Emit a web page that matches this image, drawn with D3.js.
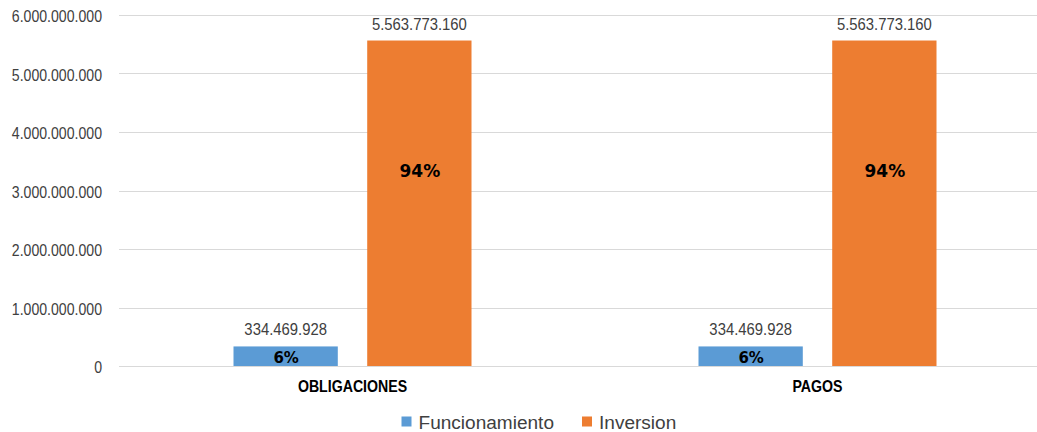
<!DOCTYPE html>
<html>
<head>
<meta charset="utf-8">
<script src="https://cdn.jsdelivr.net/npm/d3@7"></script>
<style>
  body { margin: 0; background: #fff; }
  svg { display: block; font-family: "Liberation Sans", Arial, sans-serif; }
</style>
</head>
<body>
<svg id="chart" width="1037" height="432"></svg>
<script>
// data
const categories = ["OBLIGACIONES", "PAGOS"];
const seriesNames = ["Funcionamiento", "Inversion"];
const funcionamiento = [334469928, 334469928];
const inversion = [5563773160, 5563773160];
const pctLabels = [["6%", "94%"], ["6%", "94%"]];
// where the percentage label sits, as a share of the bar height
const pctAnchor = [0.42, 0.6];
const pctSize = [15, 17];
const yTicks = [0, 1e9, 2e9, 3e9, 4e9, 5e9, 6e9];
const colors = ["#5b9bd5", "#ed7d31"];

const svg = d3.select("#chart");
const fmt = v => d3.format(",")(v).replace(/,/g, ".");

// the original text is a bit squeezed horizontally
function squeezed(parent, x, y, sx) {
    return parent.append("text")
        .attr("transform", `translate(${x},${y}) scale(${sx},1)`);
}

const x = d3.scaleBand()
    .domain(categories)
    .range([120, 1050]);

const xSub = d3.scaleBand()
    .domain(seriesNames)
    .range([x.bandwidth() / 2 - 119, x.bandwidth() / 2 + 119])
    .paddingInner(0.22);

const y = d3.scaleLinear()
    .domain([0, 6e9])
    .range([366, 15]);

// gridlines
svg.append("g")
    .selectAll("line")
    .data(yTicks)
    .enter()
    .append("line")
    .attr("x1", 119)
    .attr("x2", 1037)
    .attr("y1", d => Math.round(y(d)) + 0.5)
    .attr("y2", d => Math.round(y(d)) + 0.5)
    .attr("stroke", "#d9d9d9")
    .attr("stroke-width", 1);

// y axis labels
const yAxis = svg.append("g")
    .attr("transform", "translate(102,1)")
    .call(d3.axisLeft(y).tickValues(yTicks).tickSize(0).tickPadding(0).tickFormat(fmt));
yAxis.select(".domain").remove();
yAxis.selectAll("text")
    .attr("x", 0)
    .attr("font-size", 16.5)
    .attr("fill", "#404040")
    .attr("font-family", "Liberation Sans, Arial, sans-serif")
    .attr("dy", "0.35em")
    .attr("transform", "scale(0.855,1)");

const rows = categories.map((c, i) => ({
    cat: c,
    vals: [funcionamiento[i], inversion[i]],
    pct: pctLabels[i]
}));

rows.forEach(d => {
    const g = svg.append("g")
        .attr("transform", `translate(${x(d.cat)},0)`);

    seriesNames.forEach((s, j) => {
        const cx = xSub(s) + xSub.bandwidth() / 2;

        g.append("rect")
            .attr("x", xSub(s))
            .attr("y", y(d.vals[j]))
            .attr("width", xSub.bandwidth())
            .attr("height", y(0) - y(d.vals[j]))
            .attr("fill", colors[j]);

        // value labels
        squeezed(g, cx, y(d.vals[j]) - 11, 0.9)
            .attr("text-anchor", "middle")
            .attr("font-size", 16.5)
            .attr("fill", "#404040")
            .text(fmt(d.vals[j]));

        // percentage labels
        g.append("text")
            .attr("x", cx + 0.5)
            .attr("y", y(d.vals[j] * pctAnchor[j]))
            .attr("dy", "0.35em")
            .attr("text-anchor", "middle")
            .attr("font-size", pctSize[j])
            .attr("font-weight", "bold")
            .attr("font-family", "DejaVu Sans, sans-serif")
            .attr("fill", "#000")
            .text(d.pct[j]);
    });
});

// category labels
categories.forEach(c => {
    squeezed(svg, x(c) + x.bandwidth() / 2, 391.5, 0.885)
        .attr("text-anchor", "middle")
        .attr("font-size", 16)
        .attr("font-weight", "bold")
        .attr("fill", "#000")
        .text(c);
});

// legend
const legX = [401.5, 582];
seriesNames.forEach((s, j) => {
    svg.append("rect")
        .attr("x", legX[j])
        .attr("y", 416.5)
        .attr("width", 10)
        .attr("height", 10)
        .attr("fill", colors[j]);
    squeezed(svg, legX[j] + 17, 428.5, 1.03)
        .attr("font-size", 18.5)
        .attr("fill", "#404040")
        .text(s);
});
</script>
</body>
</html>
